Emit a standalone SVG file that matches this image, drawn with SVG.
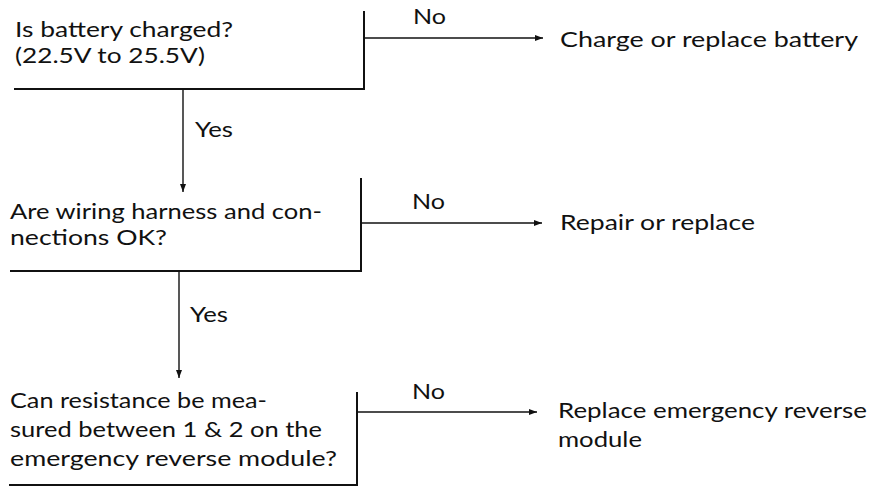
<svg xmlns="http://www.w3.org/2000/svg" width="873" height="487" viewBox="0 0 873 487">
  <style>
    .t { font-family: "Lato", "Liberation Sans", sans-serif; font-size: 22px; fill: #111; }
    .box { stroke: #111; stroke-width: 2; fill: none; stroke-linecap: square; }
    .conn { stroke: #111; stroke-width: 1.4; fill: none; }
  </style>
  <defs>
    <marker id="arrow" markerUnits="userSpaceOnUse" markerWidth="9" markerHeight="7" refX="8" refY="3.5" orient="auto">
      <path d="M0,0.5 L8,3.5 L0,6.5 z" fill="#111"/>
    </marker>
  </defs>
  <rect width="873" height="487" fill="#fff"/>

  <g id="q1">
    <path class="box" d="M15,89 H364 M364,12 V89"/>
    <text class="t" x="15" y="37" textLength="218" lengthAdjust="spacingAndGlyphs">Is battery charged?</text>
    <text class="t" x="15" y="63" textLength="190" lengthAdjust="spacingAndGlyphs">(22.5V to 25.5V)</text>
  </g>

  <g id="r1">
    <text class="t" x="560" y="47" textLength="298" lengthAdjust="spacingAndGlyphs">Charge or replace battery</text>
  </g>

  <g id="q2">
    <path class="box" d="M11,271 H361 M361,179 V271"/>
    <text class="t" x="10" y="219" textLength="312" lengthAdjust="spacingAndGlyphs">Are wiring harness and con-</text>
    <text class="t" x="10" y="245" textLength="157" lengthAdjust="spacingAndGlyphs">nections OK?</text>
  </g>

  <g id="r2">
    <text class="t" x="560" y="230" textLength="195" lengthAdjust="spacingAndGlyphs">Repair or replace</text>
  </g>

  <g id="q3">
    <path class="box" d="M10,485 H357 M357,393 V485"/>
    <text class="t" x="10" y="408" textLength="257" lengthAdjust="spacingAndGlyphs">Can resistance be mea-</text>
    <text class="t" x="10" y="437" textLength="312" lengthAdjust="spacingAndGlyphs">sured between 1 &amp; 2 on the</text>
    <text class="t" x="10" y="466" textLength="327" lengthAdjust="spacingAndGlyphs">emergency reverse module?</text>
  </g>

  <g id="r3">
    <text class="t" x="558" y="418" textLength="309" lengthAdjust="spacingAndGlyphs">Replace emergency reverse</text>
    <text class="t" x="558" y="447" textLength="84" lengthAdjust="spacingAndGlyphs">module</text>
  </g>

  <g id="connectors">
    <line class="conn" x1="364" y1="38" x2="543" y2="38" marker-end="url(#arrow)"/>
    <line class="conn" x1="361" y1="223" x2="542" y2="223" marker-end="url(#arrow)"/>
    <line class="conn" x1="357" y1="412" x2="537" y2="412" marker-end="url(#arrow)"/>
    <line class="conn" x1="183" y1="89" x2="183" y2="192" marker-end="url(#arrow)"/>
    <line class="conn" x1="179" y1="271" x2="179" y2="378" marker-end="url(#arrow)"/>
    <text class="t" x="413" y="24" textLength="33" lengthAdjust="spacingAndGlyphs">No</text>
    <text class="t" x="412" y="209" textLength="33" lengthAdjust="spacingAndGlyphs">No</text>
    <text class="t" x="412" y="399" textLength="33" lengthAdjust="spacingAndGlyphs">No</text>
    <text class="t" x="195" y="137" textLength="38" lengthAdjust="spacingAndGlyphs">Yes</text>
    <text class="t" x="190" y="322" textLength="38" lengthAdjust="spacingAndGlyphs">Yes</text>
  </g>
</svg>
